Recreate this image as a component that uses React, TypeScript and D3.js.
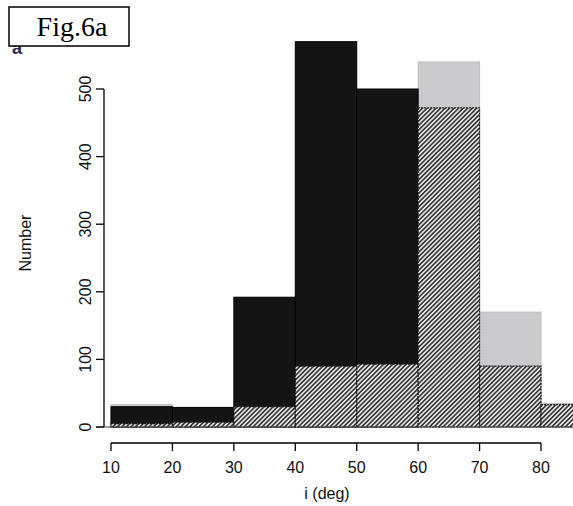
import React from "react";
import * as d3 from "d3";

// Inclination bins (deg), lower edges; each bin is 10 deg wide
const binStarts = [10, 20, 30, 40, 50, 60, 70, 80];
// Grey histogram (drawn at the back)
const greyCounts = [33, 0, 0, 0, 0, 540, 170, 35];
// Black histogram
const blackCounts = [30, 29, 192, 570, 500, 0, 0, 0];
// Hatched histogram (drawn on top)
const hatchCounts = [5, 7, 30, 90, 93, 472, 90, 33];

const xTicks = [10, 20, 30, 40, 50, 60, 70, 80];
const yTicks = [0, 100, 200, 300, 400, 500];

const W = 573;
const H = 506;

export default function App() {
  const x = d3.scaleLinear().domain([10, 80]).range([111, 541]);
  const y = d3.scaleLinear().domain([0, 500]).range([427, 89]);
  const sans = "'Liberation Sans', Arial, sans-serif";

  const bars = (counts: number[], props: any, key: string) =>
    binStarts.map((b, i) =>
      counts[i] > 0 ? (
        <rect
          key={key + i}
          x={x(b)}
          y={y(counts[i])}
          width={x(b + 10) - x(b)}
          height={y(0) - y(counts[i])}
          {...props}
        />
      ) : null
    );

  return (
    <svg
      width={W}
      height={H}
      style={{ position: "absolute", left: 0, top: 0, background: "#fff" }}
    >
      <defs>
        <pattern
          id="hatch"
          patternUnits="userSpaceOnUse"
          width={3.2}
          height={3.2}
          patternTransform="rotate(45)"
        >
          <rect width={3.2} height={3.2} fill="#e6e6e6" />
          <line x1={0.8} y1={0} x2={0.8} y2={3.2} stroke="#1c1c1c" strokeWidth={1.4} />
        </pattern>
      </defs>

      {/* histograms */}
      {bars(greyCounts, { fill: "#cbcbcd", stroke: "#bdbdbf", strokeWidth: 1 }, "g")}
      {bars(blackCounts, { fill: "#141414", stroke: "#000", strokeWidth: 1 }, "b")}
      {bars(hatchCounts, { fill: "url(#hatch)", stroke: "#1a1a1a", strokeWidth: 1.2, strokeDasharray: "2 1" }, "h")}
      <line x1={96} x2={W} y1={y(0)} y2={y(0)} stroke="#444" strokeWidth={1.2} />

      {/* y axis */}
      <line x1={104} x2={104} y1={y(0)} y2={y(500)} stroke="#000" strokeWidth={1.3} />
      {yTicks.map((t) => (
        <g key={"yt" + t}>
          <line x1={96} x2={104} y1={y(t)} y2={y(t)} stroke="#000" strokeWidth={1.3} />
          <text
            transform={`translate(91,${y(t)}) rotate(-90)`}
            textAnchor="middle"
            fontFamily={sans}
            fontSize={16}
            fill="#111"
          >
            {t}
          </text>
        </g>
      ))}
      <text
        transform={`translate(31,243) rotate(-90)`}
        textAnchor="middle"
        fontFamily={sans}
        fontSize={16}
        fill="#111"
      >
        Number
      </text>

      {/* x axis */}
      <line x1={x(10)} x2={x(80)} y1={443} y2={443} stroke="#000" strokeWidth={1.3} />
      {xTicks.map((t) => (
        <g key={"xt" + t}>
          <line x1={x(t)} x2={x(t)} y1={443} y2={451} stroke="#000" strokeWidth={1.3} />
          <text
            x={x(t)}
            y={473}
            textAnchor="middle"
            fontFamily={sans}
            fontSize={16}
            fill="#111"
          >
            {t}
          </text>
        </g>
      ))}
      <text x={327} y={499} textAnchor="middle" fontFamily={sans} fontSize={16} fill="#111">
        i (deg)
      </text>

      {/* panel letter, partly covered by the figure label */}
      <text x={12} y={54} fontFamily={sans} fontWeight="bold" fontSize={18} fill="#2a2450">
        a
      </text>
      <rect x={9} y={7} width={120} height={39} fill="#fff" stroke="#000" strokeWidth={1.5} />
      <text
        x={72}
        y={36}
        textAnchor="middle"
        fontFamily="'Liberation Serif', 'DejaVu Serif', serif"
        fontSize={28}
        fill="#000"
      >
        Fig.6a
      </text>
    </svg>
  );
}
